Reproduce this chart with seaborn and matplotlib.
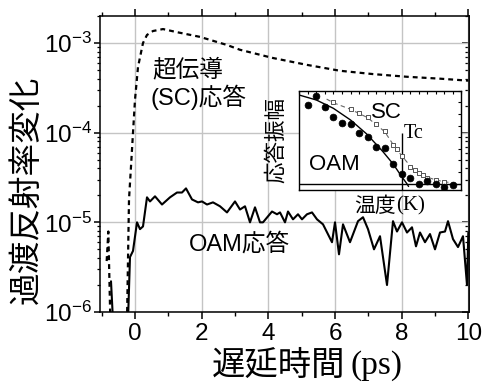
import numpy as np
import matplotlib
matplotlib.use('Agg')
import matplotlib.pyplot as plt
from matplotlib.ticker import LogLocator, MultipleLocator, NullFormatter
import seaborn as sns

# --- main panel: superconducting (SC) response, values x1e-3 ---
sc_t = [-0.24, -0.18, -0.12, -0.06, 0.0, 0.09, 0.24, 0.36, 0.54, 0.84, 1.26, 1.95,
        2.76, 3.15, 4.14, 5.16, 6.15, 7.14, 8.16, 9.15, 10.0]
sc_e3 = [0.0008, 0.018, 0.042, 0.10, 0.233, 0.54, 1.0, 1.23, 1.36, 1.43, 1.32, 1.17,
         0.95, 0.84, 0.68, 0.57, 0.49, 0.45, 0.42, 0.40, 0.38]
# short dashed spike before time zero
sc_pre_t = [-0.85, -0.80, -0.74]
sc_pre_e3 = [0.0037, 0.0079, 0.0008]

# --- main panel: OAM response, values x1e-5 ---
oam_t = [-0.21, -0.15, -0.06, 0.06, 0.15, 0.24, 0.36, 0.45, 0.60, 0.81, 1.05, 1.26,
         1.41, 1.53, 1.71, 1.89, 2.01, 2.16, 2.34, 2.55, 2.76, 3.00, 3.15, 3.30,
         3.45, 3.60, 3.75, 3.84, 4.11, 4.26, 4.35, 4.50, 4.59, 4.74, 4.89, 5.01,
         5.16, 5.31, 5.46, 5.64, 5.91, 6.00, 6.12, 6.24, 6.45, 6.69, 6.84, 6.99,
         7.17, 7.35, 7.56, 7.74, 7.86, 8.01, 8.16, 8.31, 8.43, 8.55, 8.70, 8.85,
         9.00, 9.15, 9.30, 9.39, 9.54, 9.69, 9.84, 9.96, 10.0]
oam_e5 = [0.08, 0.41, 0.48, 1.00, 0.84, 0.90, 1.90, 1.71, 1.95, 1.58, 1.90, 2.15,
          2.15, 2.39, 1.80, 1.67, 1.71, 1.58, 1.67, 1.51, 1.29, 1.71, 1.39, 1.51,
          1.00, 1.47, 1.00, 1.00, 1.32, 1.23, 1.29, 1.00, 1.32, 1.08, 1.23, 1.08,
          1.23, 1.29, 1.08, 0.95, 0.60, 1.00, 0.44, 0.95, 0.60, 1.03, 1.14, 0.84,
          0.50, 0.70, 0.20, 1.03, 0.79, 1.00, 0.77, 0.88, 0.54, 0.77, 0.60, 0.74,
          0.50, 0.77, 0.79, 1.03, 0.65, 0.53, 0.70, 0.20, 0.77]
oam_pre_t = [-0.72, -0.66]
oam_pre_e5 = [0.22, 0.08]

# --- inset: amplitude vs temperature ---
oam_temp = list(range(1, 19))
oam_amp = [0.846, 0.946, 0.828, 0.720, 0.656, 0.642, 0.548, 0.498, 0.398, 0.380,
           0.211, 0.104, 0.057, -0.004, 0.029, -0.004, -0.032, -0.018]
fit_temp = [0.0, 2.0, 4.0, 6.0, 7.9, 9.8, 11.0, 12.0, 12.6, 12.8]
fit_amp = [0.953, 0.90, 0.81, 0.685, 0.534, 0.344, 0.211, 0.075, 0.0, -0.03]
sc_temp = [4.0, 6.0, 7.0, 8.0, 9.0, 10.0, 11.0, 11.5, 12.0, 13.0, 13.5, 14.0,
           14.5, 15.0, 16.0, 17.0]
sc_amp = [0.878, 0.80, 0.758, 0.715, 0.645, 0.563, 0.419, 0.372, 0.294, 0.179,
          0.150, 0.115, 0.090, 0.060, 0.035, 0.018]
sc_line_temp = [3.2, 4.0, 6.0, 8.0, 10.0, 11.0, 12.0, 13.0, 14.0, 15.0, 16.0, 17.0, 18.3]
sc_line_amp = [0.91, 0.87, 0.80, 0.71, 0.56, 0.42, 0.30, 0.19, 0.12, 0.07, 0.04, 0.02, 0.005]
tc = 12.0
tc_top = 0.55

sns.set_theme(style='white')
plt.rcParams['font.family'] = ['Liberation Sans', 'Noto Sans CJK JP', 'DejaVu Sans']
plt.rcParams['axes.edgecolor'] = 'black'
plt.rcParams['axes.linewidth'] = 1.1
plt.rcParams['text.color'] = 'black'
plt.rcParams['xtick.color'] = 'black'
plt.rcParams['ytick.color'] = 'black'
plt.rcParams['xtick.labelcolor'] = 'black'
plt.rcParams['ytick.labelcolor'] = 'black'

W, H = 482, 382
fig = plt.figure(figsize=(W / 100, H / 100), dpi=100)
ax = fig.add_axes([100 / W, 1 - 312 / H, 369 / W, 296 / H])
ax.set_yscale('log')
ax.set_xlim(-1.05, 10.02)
ax.set_ylim(1e-6, 2.0e-3)

dash = (0, (2.2, 1.8))
sns.lineplot(x=sc_t, y=np.array(sc_e3) * 1e-3, ax=ax, color='black', lw=1.6,
             linestyle=dash, sort=False, estimator=None)
sns.lineplot(x=sc_pre_t, y=np.array(sc_pre_e3) * 1e-3, ax=ax, color='black', lw=1.6,
             linestyle=dash, sort=False, estimator=None)
sns.lineplot(x=oam_t, y=np.array(oam_e5) * 1e-5, ax=ax, color='black', lw=1.5,
             sort=False, estimator=None)
sns.lineplot(x=oam_pre_t, y=np.array(oam_pre_e5) * 1e-5, ax=ax, color='black', lw=1.5,
             sort=False, estimator=None)

ax.set_axisbelow(True)
ax.grid(True, which='major', color='#c4c4c4', lw=1)
ax.xaxis.set_major_locator(MultipleLocator(2))
ax.xaxis.set_minor_locator(MultipleLocator(1))
ax.yaxis.set_major_locator(LogLocator(base=10))
ax.yaxis.set_minor_locator(LogLocator(base=10, subs=np.arange(2, 10)))
ax.yaxis.set_minor_formatter(NullFormatter())
ax.tick_params(axis='x', which='both', direction='out', top=True, bottom=True,
               labeltop=False, labelsize=17.5, pad=3, color='black')
ax.tick_params(axis='x', which='major', length=5, width=1.1)
ax.tick_params(axis='x', which='minor', length=3, width=1.0)
ax.tick_params(axis='y', which='both', direction='out', left=True, right=False,
               labelsize=17.5, pad=2, color='black')
ax.tick_params(axis='y', which='major', length=4, width=1.1)
ax.tick_params(axis='y', which='minor', length=2.5, width=0.9)
ax.set_xlabel('')
ax.set_ylabel('')

sec = ax.secondary_yaxis('right')
sec.yaxis.set_major_locator(LogLocator(base=10))
sec.yaxis.set_minor_locator(LogLocator(base=10, subs=np.arange(2, 10)))
sec.yaxis.set_major_formatter(NullFormatter())
sec.yaxis.set_minor_formatter(NullFormatter())
sec.tick_params(which='both', direction='in', color='black')
sec.tick_params(which='major', length=5, width=1.1)
sec.tick_params(which='minor', length=3, width=0.9)

cjk = ['Liberation Sans', 'Noto Sans CJK JP']
serif = 'Liberation Serif'

def px(x, y):
    return x / W, 1 - y / H

fig.text(*px(27, 190), '過渡反射率変化', rotation=90, fontsize=23.5, family=cjk,
         ha='center', va='center')
fig.text(*px(345, 366), '遅延時間', fontsize=24, family=cjk, ha='right', va='center')
fig.text(*px(350, 366), '(ps)', fontsize=24, family=serif, ha='left', va='center')

fig.text(*px(152, 70), '超伝導', fontsize=17, family=cjk, ha='left', va='center')
fig.text(*px(150, 97), '(SC)応答', fontsize=17, family=cjk, ha='left', va='center')
fig.text(*px(189, 244), 'OAM応答', fontsize=17, family=cjk, ha='left', va='center')

# --- inset ---
axin = fig.add_axes([299.3 / W, 1 - 190 / H, 162.2 / W, 99.3 / H])
axin.set_facecolor('white')
axin.set_xlim(0, 19)
axin.set_ylim(-0.068, 1.0)
axin.axhline(0, color='black', lw=1.0)
axin.vlines(tc, -0.068, tc_top, color='black', lw=1.0)
sns.lineplot(x=fit_temp, y=fit_amp, ax=axin, color='black', lw=1.0,
             sort=False, estimator=None)
sns.lineplot(x=sc_line_temp, y=sc_line_amp, ax=axin, color='#666666', lw=0.8,
             linestyle=(0, (4, 3)), sort=False, estimator=None)
sns.scatterplot(x=sc_temp, y=sc_amp, ax=axin, marker='s', s=9, color='white',
                edgecolor='#555555', linewidth=0.7, zorder=3)
sns.scatterplot(x=oam_temp, y=oam_amp, ax=axin, marker='o', s=24, color='black',
                edgecolor='black', linewidth=0.5, zorder=4)
axin.xaxis.set_major_locator(MultipleLocator(1))
axin.yaxis.set_major_locator(MultipleLocator(0.125))
axin.tick_params(which='both', direction='in', top=True, right=True, length=2.5,
                 width=0.8, labelbottom=False, labelleft=False, color='black')
for s in axin.spines.values():
    s.set_linewidth(1.0)
axin.set_xlabel('')
axin.set_ylabel('')

fig.text(*px(276, 140), '応答振幅', rotation=90, fontsize=15.5, family=cjk,
         ha='center', va='center')
fig.text(*px(396, 206), '温度', fontsize=15, family=cjk, ha='right', va='center')
fig.text(*px(396, 206), '(K)', fontsize=15, family=serif, ha='left', va='center')
fig.text(*px(371, 113), 'SC', fontsize=16, family=cjk, ha='left', va='center')
fig.text(*px(309, 164), 'OAM', fontsize=16, family=cjk, ha='left', va='center')
fig.text(*px(404, 134), 'Tc', fontsize=14.5, family=serif, ha='left', va='center')

fig.savefig('out.png', dpi=100)
